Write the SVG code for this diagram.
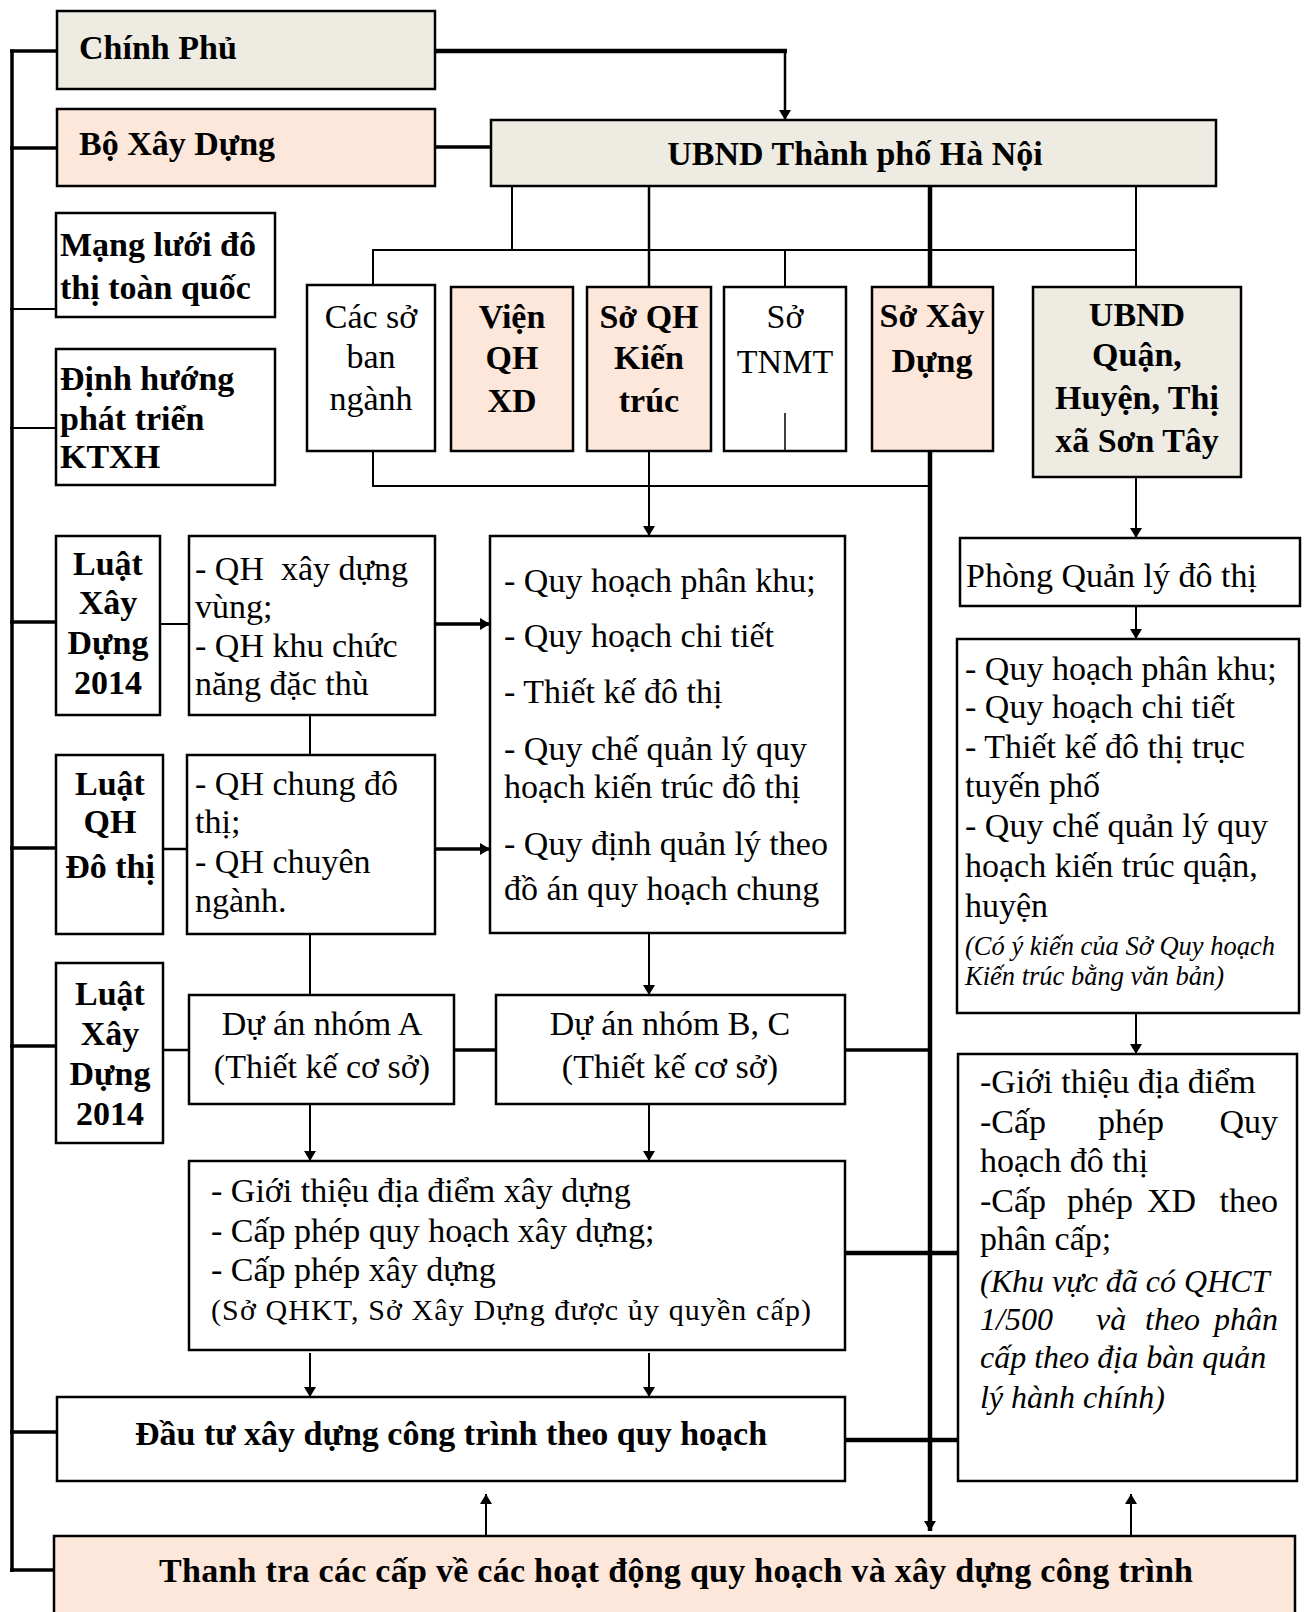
<svg xmlns="http://www.w3.org/2000/svg" width="1310" height="1612" viewBox="0 0 1310 1612">
<style>
rect{stroke:#000;stroke-width:2.5}
.g{fill:#EEECE2}.p{fill:#FCE7DA}.w{fill:#fff}
text{font-family:"Liberation Serif","Times New Roman",serif;font-size:34px;fill:#000;white-space:pre}
.b{font-weight:bold}
.m{text-anchor:middle}
.i{font-style:italic}
#conn line,#conn path{stroke:#000;fill:none;stroke-width:2}
#conn .t{stroke-width:3.5}
#conn .T{stroke-width:4.5}
</style>
<defs>
<marker id="a" viewBox="0 0 10 12" markerWidth="10" markerHeight="12" refX="10" refY="6" orient="auto" markerUnits="userSpaceOnUse"><path d="M0,0 L10,6 L0,12 z" fill="#000"/></marker>
</defs>
<rect x="0" y="0" width="1310" height="1612" fill="#fff" style="stroke:none"/>
<g id="nodes">
<g id="chinhphu"><rect class="g" x="57" y="11" width="378" height="78"/><text class="b" x="79" y="59">Chính Phủ</text></g>
<g id="boxaydung"><rect class="p" x="57" y="109" width="378" height="77"/><text class="b" x="79" y="155">Bộ Xây Dựng</text></g>
<g id="ubndhn"><rect class="g" x="491" y="120" width="725" height="66"/><text class="b m" x="855" y="165">UBND Thành phố Hà Nội</text></g>
<g id="mangluoi"><rect class="w" x="56" y="213" width="219" height="104"/><text class="b" x="60" y="256">Mạng lưới đô</text><text class="b" x="60" y="299">thị toàn quốc</text></g>
<g id="dinhhuong"><rect class="w" x="56" y="349" width="219" height="136"/><text class="b" x="60" y="390">Định hướng</text><text class="b" x="60" y="430">phát triển</text><text class="b" x="60" y="468">KTXH</text></g>
<g id="cacso"><rect class="w" x="307" y="285" width="128" height="166"/><text class="m" x="371" y="328">Các sở</text><text class="m" x="371" y="368">ban</text><text class="m" x="371" y="410">ngành</text></g>
<g id="vienqh"><rect class="p" x="451" y="287" width="122" height="164"/><text class="b m" x="512" y="328">Viện</text><text class="b m" x="512" y="369">QH</text><text class="b m" x="512" y="412">XD</text></g>
<g id="soqhkt"><rect class="p" x="587" y="287" width="124" height="164"/><text class="b m" x="649" y="328">Sở QH</text><text class="b m" x="649" y="369">Kiến</text><text class="b m" x="649" y="412">trúc</text></g>
<g id="sotnmt"><rect class="w" x="724" y="287" width="122" height="164"/><text class="m" x="785" y="328">Sở</text><text class="m" x="785" y="373">TNMT</text></g>
<g id="soxd"><rect class="p" x="872" y="287" width="121" height="164"/><text class="b m" x="932" y="327">Sở Xây</text><text class="b m" x="932" y="372">Dựng</text></g>
<g id="ubndquan"><rect class="g" x="1033" y="287" width="208" height="190"/><text class="b m" x="1137" y="326">UBND</text><text class="b m" x="1137" y="366">Quận,</text><text class="b m" x="1137" y="409">Huyện, Thị</text><text class="b m" x="1137" y="452">xã Sơn Tây</text></g>
<g id="luatxd1"><rect class="w" x="56" y="536" width="104" height="179"/><text class="b m" x="108" y="575">Luật</text><text class="b m" x="108" y="614">Xây</text><text class="b m" x="108" y="654">Dựng</text><text class="b m" x="108" y="694">2014</text></g>
<g id="qhvung"><rect class="w" x="189" y="536" width="246" height="179"/><text x="195" y="580">- QH  xây dựng</text><text x="195" y="618">vùng;</text><text x="195" y="657">- QH khu chức</text><text x="195" y="695">năng đặc thù</text></g>
<g id="qhphankhu"><rect class="w" x="490" y="536" width="355" height="397"/><text x="504" y="592">- Quy hoạch phân khu;</text><text x="504" y="647">- Quy hoạch chi tiết</text><text x="504" y="703">- Thiết kế đô thị</text><text x="504" y="760">- Quy chế quản lý quy</text><text x="504" y="798">hoạch kiến trúc đô thị</text><text x="504" y="855">- Quy định quản lý theo</text><text x="504" y="900">đồ án quy hoạch chung</text></g>
<g id="luatqh"><rect class="w" x="56" y="755" width="107" height="179"/><text class="b m" x="110" y="795">Luật</text><text class="b m" x="110" y="833">QH</text><text class="b m" x="110" y="878">Đô thị</text></g>
<g id="qhchung"><rect class="w" x="187" y="755" width="248" height="179"/><text x="195" y="795">- QH chung đô</text><text x="195" y="833">thị;</text><text x="195" y="873">- QH chuyên</text><text x="195" y="912">ngành.</text></g>
<g id="luatxd2"><rect class="w" x="56" y="963" width="107" height="180"/><text class="b m" x="110" y="1005">Luật</text><text class="b m" x="110" y="1045">Xây</text><text class="b m" x="110" y="1085">Dựng</text><text class="b m" x="110" y="1125">2014</text></g>
<g id="duana"><rect class="w" x="189" y="995" width="265" height="109"/><text class="m" x="322" y="1035">Dự án nhóm A</text><text class="m" x="322" y="1078">(Thiết kế cơ sở)</text></g>
<g id="duanbc"><rect class="w" x="496" y="995" width="349" height="109"/><text class="m" x="670" y="1035">Dự án nhóm B, C</text><text class="m" x="670" y="1078">(Thiết kế cơ sở)</text></g>
<g id="gioithieu"><rect class="w" x="189" y="1161" width="656" height="189"/><text x="211" y="1202">- Giới thiệu địa điểm xây dựng</text><text x="211" y="1242">- Cấp phép quy hoạch xây dựng;</text><text x="211" y="1281">- Cấp phép xây dựng</text><text x="211" y="1320" style="font-size:30px" textLength="600" lengthAdjust="spacing">(Sở QHKT, Sở Xây Dựng được ủy quyền cấp)</text></g>
<g id="dautu"><rect class="w" x="57" y="1397" width="788" height="84"/><text class="b m" x="451" y="1445">Đầu tư xây dựng công trình theo quy hoạch</text></g>
<g id="thanhtra"><rect class="p" x="54" y="1536" width="1241" height="90"/><text class="b m" x="676" y="1582" textLength="1034" lengthAdjust="spacing">Thanh tra các cấp về các hoạt động quy hoạch và xây dựng công trình</text></g>
<g id="phongql"><rect class="w" x="960" y="538" width="340" height="68"/><text x="966" y="587">Phòng Quản lý đô thị</text></g>
<g id="quan2"><rect class="w" x="957" y="639" width="342" height="374"/><text x="965" y="680">- Quy hoạch phân khu;</text><text x="965" y="718">- Quy hoạch chi tiết</text><text x="965" y="758">- Thiết kế đô thị trục</text><text x="965" y="797">tuyến phố</text><text x="965" y="837">- Quy chế quản lý quy</text><text x="965" y="877">hoạch kiến trúc quận,</text><text x="965" y="917">huyện</text><text class="i" x="965" y="955" style="font-size:26.5px">(Có ý kiến của Sở Quy hoạch</text><text class="i" x="965" y="985" style="font-size:26.5px">Kiến trúc bằng văn bản)</text></g>
<g id="quan3"><rect class="w" x="958" y="1054" width="339" height="427"/>
<text x="980" y="1093">-Giới thiệu địa điểm</text>
<text x="980" y="1133">-Cấp</text><text x="1098" y="1133">phép</text><text x="1278" y="1133" style="text-anchor:end">Quy</text>
<text x="980" y="1172">hoạch đô thị</text>
<text x="980" y="1212">-Cấp</text><text x="1067" y="1212">phép</text><text x="1147" y="1212">XD</text><text x="1278" y="1212" style="text-anchor:end">theo</text>
<text x="980" y="1250">phân cấp;</text>
<text class="i" x="980" y="1292" style="font-size:32px">(Khu vực đã có QHCT</text>
<text class="i" x="980" y="1330" style="font-size:32px">1/500</text><text class="i" x="1096" y="1330" style="font-size:32px">và</text><text class="i" x="1145" y="1330" style="font-size:32px">theo</text><text class="i" x="1278" y="1330" style="font-size:32px;text-anchor:end">phân</text>
<text class="i" x="980" y="1368" style="font-size:32px">cấp theo địa bàn quản</text>
<text class="i" x="980" y="1408" style="font-size:32px">lý hành chính)</text></g>
</g>
<g id="conn">
<line class="t" x1="12" y1="49.5" x2="12" y2="1572"/>
<line class="t" x1="10" y1="51" x2="57" y2="51"/>
<line class="t" x1="10" y1="148" x2="57" y2="148"/>
<line x1="10" y1="309" x2="57" y2="309"/>
<line x1="10" y1="428" x2="57" y2="428"/>
<line class="t" x1="10" y1="622" x2="56" y2="622"/>
<line class="t" x1="10" y1="848" x2="56" y2="848"/>
<line class="t" x1="10" y1="1046" x2="56" y2="1046"/>
<line class="t" x1="10" y1="1432" x2="57" y2="1432"/>
<line class="t" x1="10" y1="1570" x2="54" y2="1570"/>
<line class="T" x1="435" y1="51" x2="787" y2="51"/>
<line x1="785" y1="49" x2="785" y2="120" style="stroke-width:2.5" marker-end="url(#a)"/>
<line class="t" x1="435" y1="147" x2="491" y2="147"/>
<line x1="512" y1="186" x2="512" y2="250"/>
<line style="stroke-width:2.5" x1="649" y1="186" x2="649" y2="287"/>
<line class="T" x1="930" y1="186" x2="930" y2="287"/>
<line x1="1136" y1="186" x2="1136" y2="287"/>
<line x1="372" y1="250" x2="1137" y2="250"/>
<line x1="373" y1="249" x2="373" y2="285"/>
<line x1="785" y1="249" x2="785" y2="287"/>
<line style="stroke-width:1.5" x1="785" y1="413" x2="785" y2="451"/>
<line x1="373" y1="451" x2="373" y2="487"/>
<line x1="372" y1="486" x2="931" y2="486"/>
<line x1="649" y1="451" x2="649" y2="536" marker-end="url(#a)"/>
<line class="T" x1="930" y1="451" x2="930" y2="1531" marker-end="url(#a)"/>
<line x1="1136" y1="477" x2="1136" y2="538" marker-end="url(#a)"/>
<line x1="160" y1="624" x2="189" y2="624"/>
<line class="t" x1="435" y1="624" x2="490" y2="624" marker-end="url(#a)"/>
<line x1="310" y1="715" x2="310" y2="755"/>
<line style="stroke-width:2.5" x1="163" y1="849" x2="187" y2="849"/>
<line class="t" x1="435" y1="849" x2="490" y2="849" marker-end="url(#a)"/>
<line x1="310" y1="934" x2="310" y2="995"/>
<line x1="649" y1="933" x2="649" y2="995" marker-end="url(#a)"/>
<line style="stroke-width:2.5" x1="163" y1="1050" x2="189" y2="1050"/>
<line class="t" x1="454" y1="1050" x2="496" y2="1050"/>
<line class="t" x1="845" y1="1050" x2="930" y2="1050"/>
<line x1="310" y1="1104" x2="310" y2="1161" marker-end="url(#a)"/>
<line x1="649" y1="1104" x2="649" y2="1161" marker-end="url(#a)"/>
<line class="T" x1="845" y1="1253" x2="958" y2="1253"/>
<line x1="310" y1="1353" x2="310" y2="1397" marker-end="url(#a)"/>
<line x1="649" y1="1353" x2="649" y2="1397" marker-end="url(#a)"/>
<line class="T" x1="845" y1="1440" x2="958" y2="1440"/>
<line x1="486" y1="1536" x2="486" y2="1494" marker-end="url(#a)"/>
<line x1="1131" y1="1536" x2="1131" y2="1494" marker-end="url(#a)"/>
<line x1="1136" y1="606" x2="1136" y2="639" marker-end="url(#a)"/>
<line x1="1136" y1="1013" x2="1136" y2="1054" marker-end="url(#a)"/>
</g>
</svg>
